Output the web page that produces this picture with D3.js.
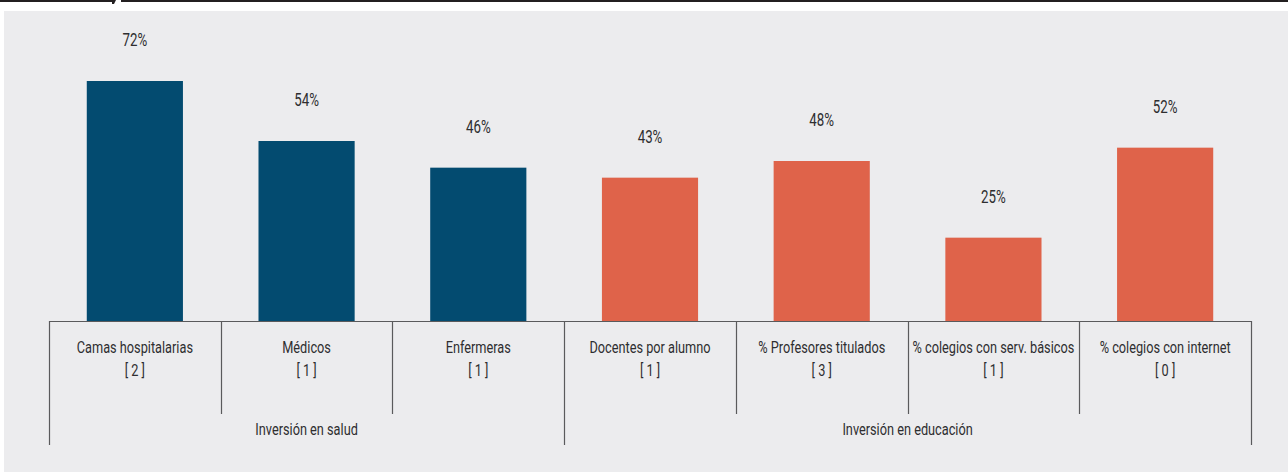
<!DOCTYPE html>
<html>
<head>
<meta charset="utf-8">
<script src="https://cdn.jsdelivr.net/npm/d3@7"></script>
<style>
  html, body { margin: 0; padding: 0; background: #ffffff; }
  svg { display: block; }
  text { font-family: "Roboto", "DejaVu Sans", sans-serif; font-weight: 400; fill: #2e2e30; }
</style>
</head>
<body>
<svg id="chart" width="1288" height="472"></svg>
<script>
// Indicator names, their bracketed counts, values (%) and investment group
const categories = [
  "Camas hospitalarias",
  "Médicos",
  "Enfermeras",
  "Docentes por alumno",
  "% Profesores titulados",
  "% colegios con serv. básicos",
  "% colegios con internet"
];
const counts = ["[ 2 ]", "[ 1 ]", "[ 1 ]", "[ 1 ]", "[ 3 ]", "[ 1 ]", "[ 0 ]"];
const values = [72, 54, 46, 43, 48, 25, 52];
const groupOf = ["salud", "salud", "salud", "educacion", "educacion", "educacion", "educacion"];
const groups = ["salud", "educacion"];
const groupLabels = ["Inversión en salud", "Inversión en educación"];
const groupColors = ["#034b70", "#df634a"];

const svg = d3.select("#chart");
const W = 1288, H = 472;

// narrow lettering: horizontally compressed text centred at (x, y)
function placeText(sel, fx, fy, k) {
  sel.attr("transform", (d, i) => `translate(${fx(d, i)},${fy(d, i)}) scale(${k},1)`)
     .attr("text-anchor", "middle");
}

// page frame: dark rule on top with a small notch, grey panel beneath
svg.append("rect").attr("x", 0).attr("y", 0).attr("width", W).attr("height", H).attr("fill", "#ffffff");
svg.append("rect").attr("x", 0).attr("y", 0).attr("width", 112).attr("height", 2).attr("fill", "#231f20");
svg.append("rect").attr("x", 121).attr("y", 0).attr("width", W - 121).attr("height", 2).attr("fill", "#231f20");
svg.append("path").attr("d", "M112,0 L116,0 L114,4 L112,4 Z").attr("fill", "#231f20");
svg.append("rect").attr("x", 4).attr("y", 11).attr("width", W - 4).attr("height", H - 11).attr("fill", "#ececee");

const left = 49, right = 1251, baseY = 321;

const x = d3.scaleBand().domain(categories).range([left, right]).padding(0);
const barW = x.bandwidth() * 0.56;
const y = d3.scaleLinear().domain([0, d3.max(values)]).range([baseY, 81]);
const color = d3.scaleOrdinal().domain(groups).range(groupColors);

const data = categories.map((c, i) => ({ cat: c, count: counts[i], value: values[i], group: groupOf[i] }));
const cx = d => x(d.cat) + x.bandwidth() / 2;

// bars
svg.append("g").selectAll("rect").data(data).join("rect")
  .attr("x", d => x(d.cat) + (x.bandwidth() - barW) / 2)
  .attr("y", d => y(d.value))
  .attr("width", barW)
  .attr("height", d => baseY - y(d.value))
  .attr("fill", d => color(d.group));

// value labels
svg.append("g").selectAll("text").data(data).join("text")
  .attr("font-size", 18)
  .text(d => d.value + "%")
  .call(placeText, cx, d => y(d.value) - 35, 0.74);

// baseline
const lineColor = "#5a5a5c";
svg.append("line")
  .attr("x1", left).attr("x2", right).attr("y1", baseY + 0.5).attr("y2", baseY + 0.5)
  .attr("stroke", lineColor).attr("stroke-width", 1.2);

// group extents
const groupSpans = groups.map((g, gi) => {
  const members = data.filter(d => d.group === g);
  const x0 = x(members[0].cat);
  const x1 = x(members[members.length - 1].cat) + x.bandwidth();
  return { g, label: groupLabels[gi], x0, x1 };
});
const groupEdges = new Set();
groupSpans.forEach(s => { groupEdges.add(Math.round(s.x0)); groupEdges.add(Math.round(s.x1)); });

// separators between categories (long ones at group edges)
const edges = categories.map(c => x(c)).concat([right]);
svg.append("g").selectAll("line").data(edges).join("line")
  .attr("x1", d => Math.round(d) + 0.5).attr("x2", d => Math.round(d) + 0.5)
  .attr("y1", baseY)
  .attr("y2", d => groupEdges.has(Math.round(d)) ? 445 : 414)
  .attr("stroke", lineColor).attr("stroke-width", 1.2);

// category labels and their bracketed counts
const k = 0.75;
const catLabels = svg.append("g");
catLabels.selectAll("text.cat").data(data).join("text").attr("class", "cat")
  .attr("font-size", 17).text(d => d.cat)
  .call(placeText, cx, () => 353, k);
catLabels.selectAll("text.cnt").data(data).join("text").attr("class", "cnt")
  .attr("font-size", 17).text(d => d.count)
  .call(placeText, cx, () => 376, k);

// group labels
svg.append("g").selectAll("text").data(groupSpans).join("text")
  .attr("font-size", 17)
  .text(d => d.label)
  .call(placeText, d => (d.x0 + d.x1) / 2, () => 435, k);
</script>
</body>
</html>
